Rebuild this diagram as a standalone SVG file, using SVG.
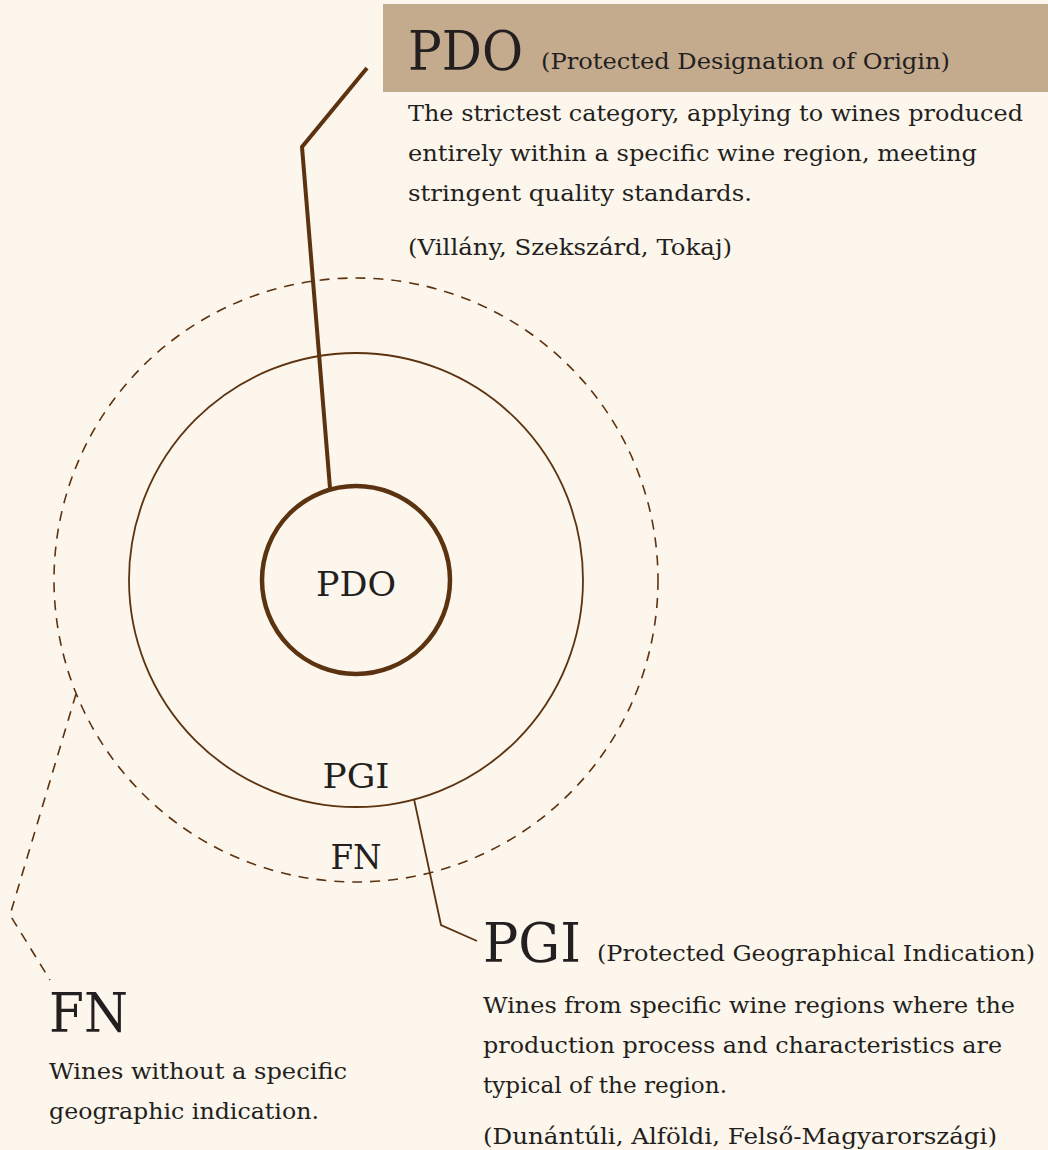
<svg xmlns="http://www.w3.org/2000/svg" width="1048" height="1150" viewBox="0 0 1048 1150">
<style>
text{font-family:"DejaVu Serif","Liberation Serif",serif;fill:#231f20}
.big{font-size:55px}
.sub{font-size:23px}
.body{font-size:23px}
.lbl{font-size:33px}
.ln{fill:none;stroke:#5c3310}
</style>
<rect width="1048" height="1150" fill="#fdf6ec"/>
<g id="circles">
<circle cx="356" cy="580" r="302" class="ln" stroke-width="1.6" stroke-dasharray="10 8"/>
<circle cx="356" cy="580" r="227" class="ln" stroke-width="1.8"/>
<circle cx="356" cy="580" r="94" class="ln" stroke-width="4.5"/>
</g>
<g id="connectors">
<polyline class="ln" stroke-width="4" points="330,488 302,147 367,68"/>
<polyline class="ln" stroke-width="1.8" points="414,799 441,925 477,941"/>
<polyline class="ln" stroke-width="1.6" stroke-dasharray="10 8" points="76,694 10,915 50,980"/>
</g>
<g id="circle-labels">
<text class="lbl" x="356" y="596" text-anchor="middle" textLength="80" lengthAdjust="spacingAndGlyphs">PDO</text>
<text class="lbl" x="356" y="788" text-anchor="middle" textLength="67" lengthAdjust="spacingAndGlyphs">PGI</text>
<text class="lbl" x="356" y="869" text-anchor="middle" textLength="51" lengthAdjust="spacingAndGlyphs">FN</text>
</g>
<g id="pdo-node">
<rect x="383" y="4" width="665" height="88" fill="#c4ab8e"/>
<text class="big" x="408" y="70" textLength="115" lengthAdjust="spacingAndGlyphs">PDO</text>
<text class="sub" x="541" y="69" textLength="409" lengthAdjust="spacingAndGlyphs">(Protected Designation of Origin)</text>
<text class="body" x="408" y="121" textLength="615" lengthAdjust="spacingAndGlyphs">The strictest category, applying to wines produced</text>
<text class="body" x="408" y="161" textLength="569" lengthAdjust="spacingAndGlyphs">entirely within a specific wine region, meeting</text>
<text class="body" x="408" y="201" textLength="344" lengthAdjust="spacingAndGlyphs">stringent quality standards.</text>
<text class="body" x="408" y="255" textLength="324" lengthAdjust="spacingAndGlyphs">(Villány, Szekszárd, Tokaj)</text>
</g>
<g id="pgi-node">
<text class="big" x="483" y="962" textLength="98" lengthAdjust="spacingAndGlyphs">PGI</text>
<text class="sub" x="597" y="961" textLength="438" lengthAdjust="spacingAndGlyphs">(Protected Geographical Indication)</text>
<text class="body" x="483" y="1013" textLength="532" lengthAdjust="spacingAndGlyphs">Wines from specific wine regions where the</text>
<text class="body" x="483" y="1053" textLength="519" lengthAdjust="spacingAndGlyphs">production process and characteristics are</text>
<text class="body" x="483" y="1093" textLength="244" lengthAdjust="spacingAndGlyphs">typical of the region.</text>
<text class="body" x="483" y="1144" textLength="514" lengthAdjust="spacingAndGlyphs">(Dunántúli, Alföldi, Felső-Magyarországi)</text>
</g>
<g id="fn-node">
<text class="big" x="49" y="1032" textLength="79" lengthAdjust="spacingAndGlyphs">FN</text>
<text class="body" x="49" y="1079" textLength="298" lengthAdjust="spacingAndGlyphs">Wines without a specific</text>
<text class="body" x="49" y="1119" textLength="270" lengthAdjust="spacingAndGlyphs">geographic indication.</text>
</g>
</svg>
